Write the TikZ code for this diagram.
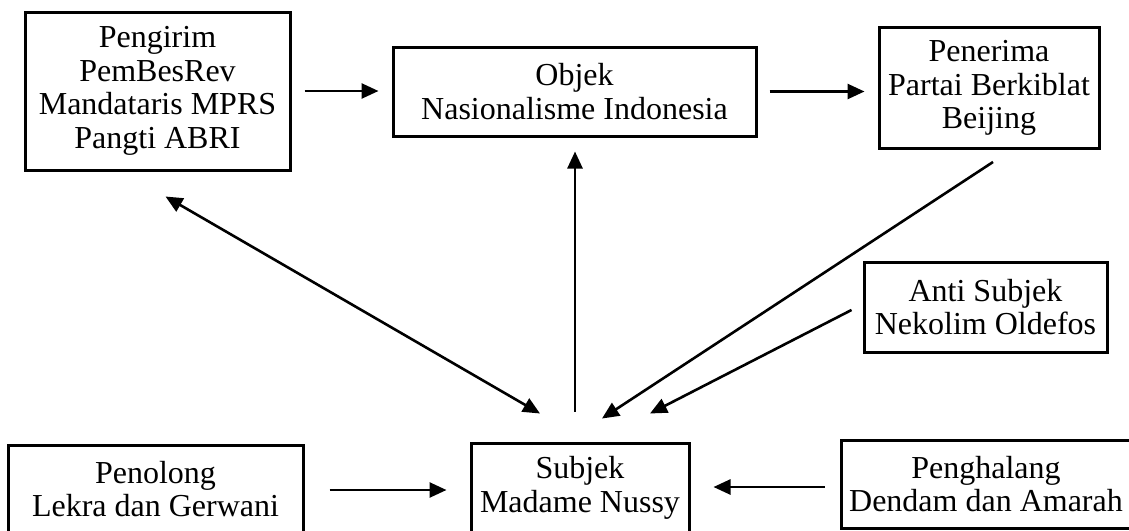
\documentclass[tikz,border=0pt]{standalone}
\usepackage{fontspec}
\setmainfont{Liberation Serif}
\usetikzlibrary{arrows.meta}
\begin{document}
\begin{tikzpicture}[x=0.5pt,y=-0.5pt,
    box/.style={draw,line width=1.5pt,align=center,inner sep=0pt,font=\fontsize{16pt}{16.8pt}\selectfont},
    link/.style={line width=1.3pt,-{Triangle[length=8.5pt,width=7.5pt]}}]
    \useasboundingbox (0,0) rectangle (1129,530);
    \node [box,minimum width=132.5pt,minimum height=79pt] (pengirim) at (157.5,91) {Pengirim\\PemBesRev\\Mandataris MPRS\\Pangti ABRI};
    \node [box,minimum width=181.5pt,minimum height=44.5pt] (objek) at (574.5,91.5) {Objek\\Nasionalisme Indonesia};
    \node [box,minimum width=110pt,minimum height=60.5pt] (penerima) at (989,88) {Penerima\\Partai Berkiblat\\Beijing};
    \node [box,minimum width=121.5pt,minimum height=45pt] (anti) at (985.5,307) {Anti Subjek\\Nekolim Oldefos};
    \node [box,minimum width=147.5pt,minimum height=44pt] (penolong) at (155.5,489) {Penolong\\Lekra dan Gerwani};
    \node [box,minimum width=109pt,minimum height=45pt] (subjek) at (580,488) {Subjek\\Madame Nussy};
    \node [box,minimum width=145pt,minimum height=44pt] (penghalang) at (986,484) {Penghalang\\Dendam dan Amarah};
    \draw [link,shorten <=6.5pt,shorten >=6.5pt] (pengirim.east) -- (pengirim.east -| objek.west);
    \draw [link,shorten <=6pt,shorten >=6.5pt] (objek.east) -- (objek.east -| penerima.west);
    \draw [link,{Triangle[length=8.5pt,width=7.5pt]}-{Triangle[length=8.5pt,width=7.5pt]}] ([shift={(8,25)}]pengirim.south) -- ([shift={(-40,-28)}]subjek.north);
    \draw [link,shorten >=7pt] ([shift={(-5,-30)}]subjek.north) coordinate (v) -- (v |- objek.south);
    \draw [link] ([shift={(4,12)}]penerima.south) -- ([shift={(22,-23)}]subjek.north);
    \draw [link] ([shift={(-11,3)}]anti.west) -- ([shift={(70,-28)}]subjek.north);
    \draw [link,shorten <=12.5pt,shorten >=11.5pt] ([yshift=-0.5pt]penolong.east) -- ([yshift=-0.5pt]penolong.east -| subjek.west);
    \draw [link,shorten <=7.5pt,shorten >=11.5pt] ([yshift=-1.5pt]penghalang.west) -- ([yshift=-1.5pt]penghalang.west -| subjek.east);
\end{tikzpicture}
\end{document}
